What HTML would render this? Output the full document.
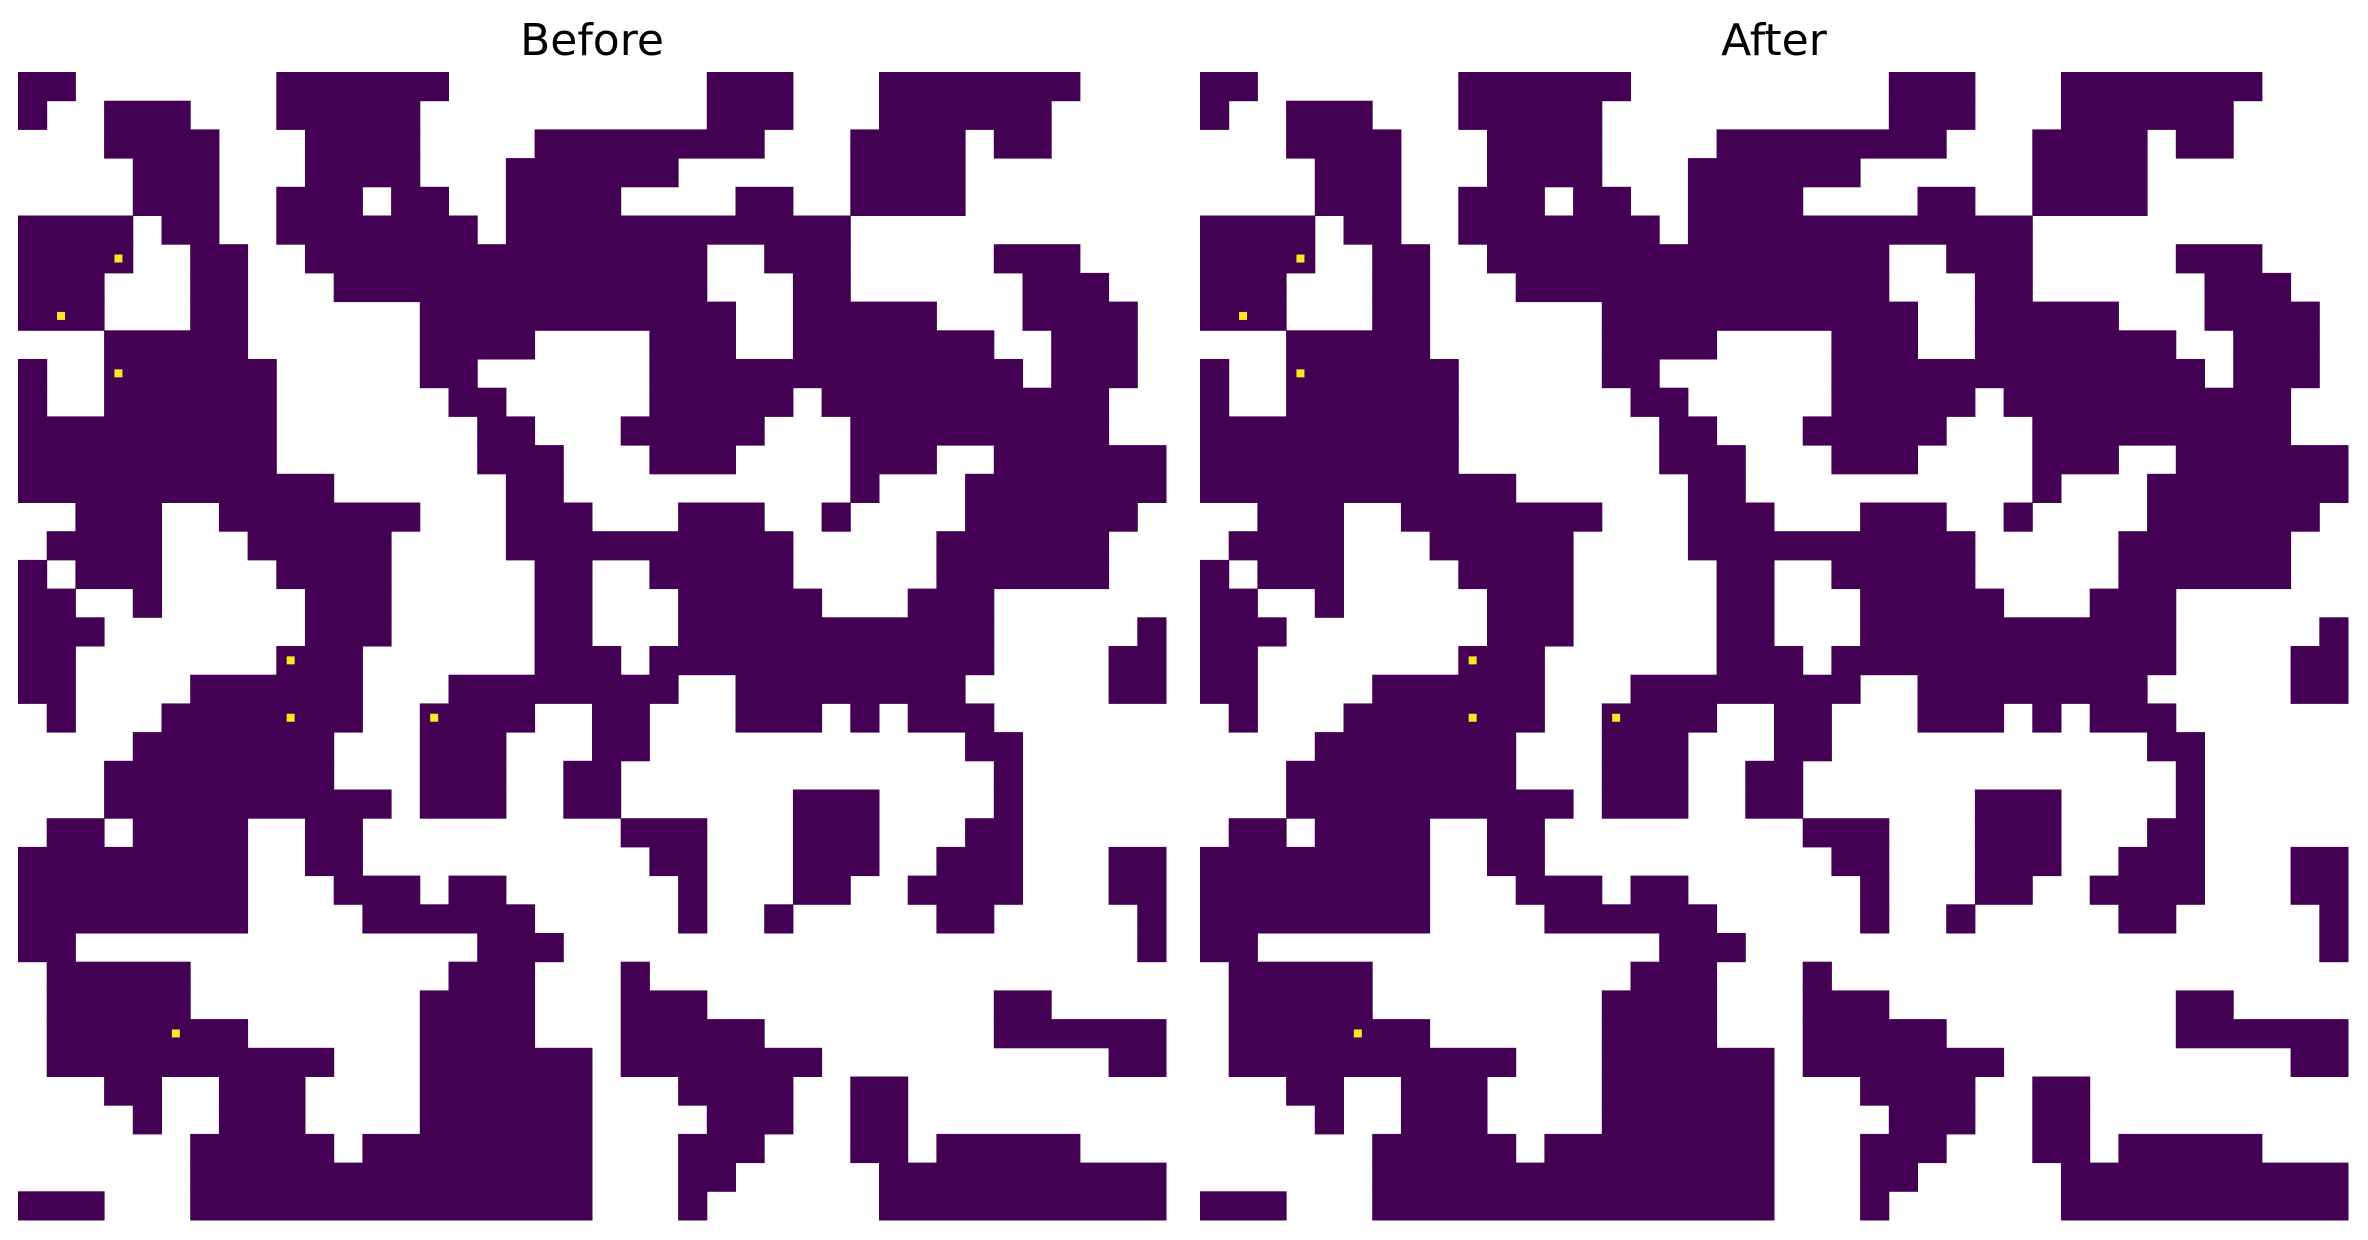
<!DOCTYPE html>
<html><head><meta charset="utf-8"><style>
html,body{margin:0;padding:0;background:#fff;width:2368px;height:1240px;overflow:hidden}
svg{display:block}
text{font-family:"DejaVu Sans","Liberation Sans",sans-serif;font-size:44px;fill:#000}
</style></head><body>
<svg id="fig" width="2368" height="1240">
<text x="592" y="55" text-anchor="middle">Before</text>
<text x="1774" y="55" text-anchor="middle">After</text>
<g id="p0"></g>
<g id="p1"></g>
</svg>
<script>
const q1 = [
"##.......######.....","#..###...#####......","...####...####....##","....###...####...###","....###..###.##..###",
"####.##..#######.###","####..##..##########","###...##...#########","###...##......######","...#####......####..",
"#..######.....##....","#..######......##...","#########.......##..","#########.......###.","###########......##.",
"..###..#######...###",".####...#####....###","#.###....####.....##","##..#.....###.....##","###.......###.....##"];
const q2 = [
"....###...#######...","....###...######....","######...####.##....","###......####.......","#....##..####.......",
"#########...........","####..###.....###...","####...##......###..","#####..#####...####.","..###..#######..###.",
"..#############.###.","..#####.##########..",".#####...#########..","..###....###..######",".........#...#######",
"...###..#....######.","#######.....######..","..#####.....######..","...#####...###......","...###########.....#"];
const q3 = [
"##.......###......##","##....######...#####",".#...#######..####..","....#######...###...","...########...###..#",
"...##########.###..#",".##.####..##........","########..##........","########...###.##...","########....######..",
"##..............###.",".#####.........###..",".#####........####..",".#######......####..",".##########...######",
"...##..###....######","....#..###....######","......#####.########","......##############","###...##############"];
const q4 = [
"#.############....##","###..########.....##","##...###.#.###......","##...........##.....","#.............#.....",
"#......###....#.....",".###...###...##.....","..##...###..###...##","...#...##..####...##","...#..#.....##.....#",
"...................#",".#..................",".###..........##....",".#####........######",".#######..........##",
"...####..##.........","....###..##.........","...###...##.#####...","...##.....##########","...#......##########"];
const dotsRow = [1,8,5,10,6,19,4,22,6,24,13,31,3,12,13,5,20,32,21,21,28,22,35,29,36,18,29,33,20,27];
const dotsCol = [1,1,7,3,3,5,8,9,9,13,14,18,24,27,28,16,16,30,23,24,17,14,11,21,27,37,22,5,9,24];

const X0 = [18, 1200], Y0 = 72, W = 1148, N = 40;
const cs = W / N;
const ns = 'http://www.w3.org/2000/svg';
function cellAt(r, c){
  if (r < 20) return (c < 20 ? q1[r][c] : q2[r][c-20]) === '#';
  return (c < 20 ? q3[r-20][c] : q4[r-20][c-20]) === '#';
}
[0,1].forEach(p => {
  const g = document.getElementById('p' + p);
  for (let r = 0; r < N; r++) {
    let c = 0;
    while (c < N) {
      if (cellAt(r, c)) {
        let e = c;
        while (e < N && cellAt(r, e)) e++;
        const rect = document.createElementNS(ns, 'rect');
        rect.setAttribute('x', X0[p] + c * cs);
        rect.setAttribute('y', Y0 + r * cs);
        rect.setAttribute('width', (e - c) * cs + 0.5);
        rect.setAttribute('height', cs + 0.5);
        rect.setAttribute('fill', '#440154');
        
        
        g.appendChild(rect);
        c = e;
      } else c++;
    }
  }
  for (let i = 0; i < dotsRow.length; i++) {
    if (!cellAt(dotsRow[i], dotsCol[i])) continue;
    const d = document.createElementNS(ns, 'rect');
    d.setAttribute('x', X0[p] + dotsCol[i] * cs + cs / 2 - 4);
    d.setAttribute('y', Y0 + dotsRow[i] * cs + cs / 2 - 4);
    d.setAttribute('width', 8);
    d.setAttribute('height', 8);
    d.setAttribute('fill', '#fde725');
    
    
    g.appendChild(d);
  }
});
</script>
</body></html>
